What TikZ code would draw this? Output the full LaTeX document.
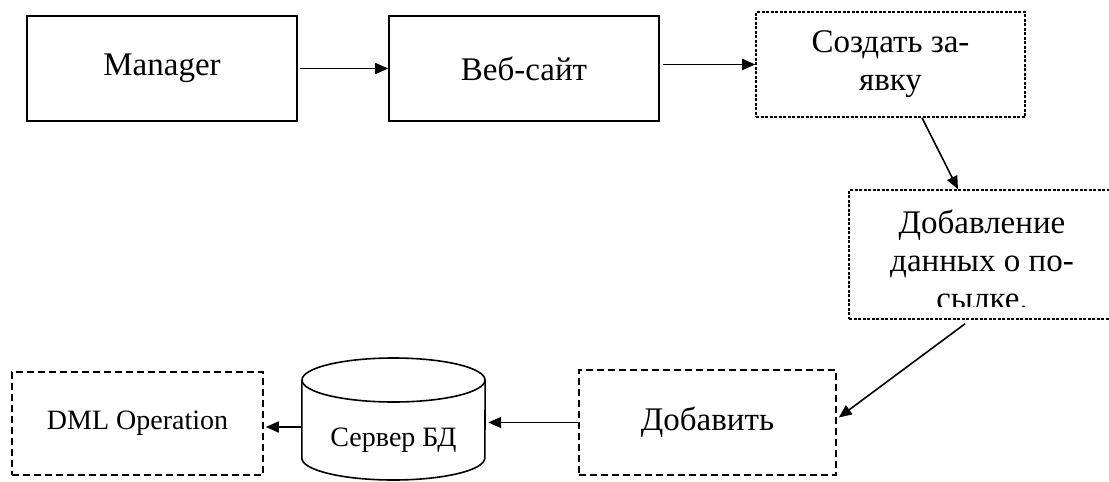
\documentclass[tikz,border=0pt]{standalone}
\usepackage{fontspec}
\setmainfont{Liberation Serif}
\usetikzlibrary{arrows.meta}
\begin{document}
\begin{tikzpicture}[x=1pt,y=-1pt,
  box/.style={draw, line width=1.6pt, inner sep=0pt, align=center},
  solidbox/.style={box, minimum width=270pt, minimum height=105pt},
  finebox/.style={box, dash pattern=on 3pt off 1.5pt},
  widebox/.style={box, dash pattern=on 7pt off 4pt},
  bigtxt/.style={font=\fontsize{33}{38}\selectfont},
  smalltxt/.style={font=\fontsize{28}{34}\selectfont},
  arr/.style={line width=1.6pt, -{Triangle[length=13pt,width=11pt]}}]
\useasboundingbox (0,0) rectangle (1109,482);

% top row
\node[solidbox, bigtxt] (mgr) at (162,68.5) {Manager};
\node[solidbox, bigtxt] (web) at (524,68.5) {Веб-сайт};
\node[finebox, bigtxt, minimum width=269pt, minimum height=105pt] (create) at (890.5,64.5)
  {Создать за-\\явку};

% parcel data box; its last text line is cut off by the box frame
\node[finebox, minimum width=266pt, minimum height=129pt] (data) at (982,254.5) {};
\begin{scope}
  \clip (data.north west) rectangle ([yshift=13pt]data.south east);
  \node[bigtxt, align=center, anchor=north, inner sep=0pt] (datatext) at (982,210)
    {Добавление\\данных о по-\\сылке.};
\end{scope}

% bottom row
\node[widebox, bigtxt, minimum width=257pt, minimum height=105pt] (add) at (707.5,422.5) {Добавить};
\node[widebox, smalltxt, minimum width=251pt, minimum height=103pt] (dml) at (137.5,423.5) {DML Operation};

% database cylinder
\node[minimum width=183pt, minimum height=122pt, inner sep=0pt] (db) at (393.5,419) {};
\draw[line width=1.6pt] (db.north west |- 0,380) -- (db.west |- 0,458)
  arc[start angle=180, end angle=360, x radius=91.5pt, y radius=22pt]
  -- (db.east |- 0,380);
\draw[line width=1.6pt] (393.5,380) ellipse[x radius=91.5pt, y radius=22pt];
\node[smalltxt, inner sep=0pt] (dbtext) at (393.5,440) {Сервер БД};

% connectors
\draw[arr, shorten <=2pt] (mgr.east) -- (web.west);
\draw[arr, shorten <=3pt] (web.east |- create.west) -- (create.west);
\draw[arr] ([xshift=31.5pt]create.south) -- ([xshift=-24pt]data.north);
\draw[arr] ([xshift=-17pt,yshift=-4pt]data.south) -- ([xshift=2pt,yshift=5pt]add.east);
\draw[arr, shorten >=3pt] (add.west) -- (add.west -| db.east);
\draw[arr, shorten >=2pt] (db.west |- 0,427) -- (dml.east |- 0,427);
\end{tikzpicture}
\end{document}
